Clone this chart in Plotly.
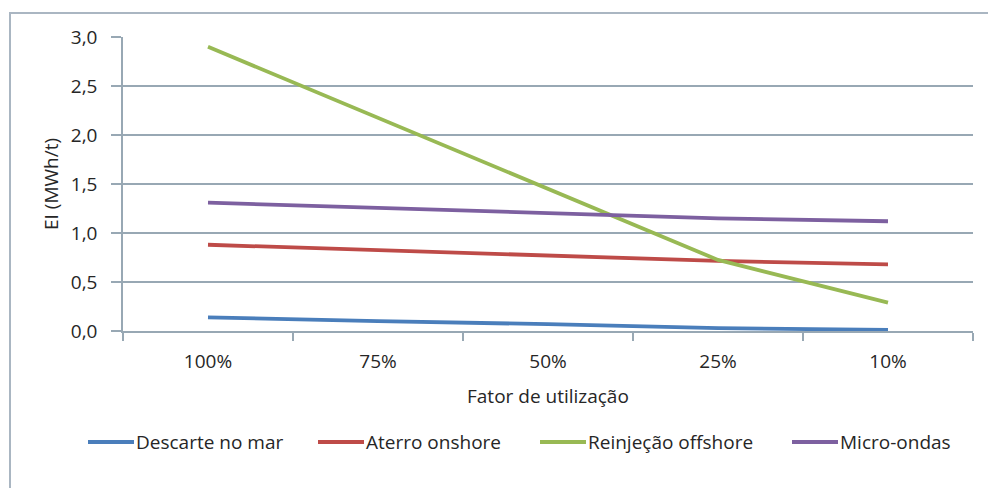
import plotly.graph_objects as go

# Utilisation factor categories
fatores = ["100%", "75%", "50%", "25%", "10%"]

# Energy intensity per destination (MWh/t)
descarte_no_mar = [0.14, 0.10, 0.07, 0.03, 0.01]
aterro_onshore = [0.88, 0.825, 0.77, 0.715, 0.68]
reinjecao_offshore = [2.90, 2.175, 1.45, 0.725, 0.29]
micro_ondas = [1.31, 1.255, 1.205, 1.15, 1.12]

y_ticks = [0.0, 0.5, 1.0, 1.5, 2.0, 2.5, 3.0]

series = [
    ("Descarte no mar", descarte_no_mar, "#4A7EBB"),
    ("Aterro onshore", aterro_onshore, "#BE4B48"),
    ("Reinjeção offshore", reinjecao_offshore, "#98B954"),
    ("Micro-ondas", micro_ondas, "#7D60A0"),
]

FONT = "Open Sans"
TEXT = "#262626"
GRID = "#98a8b4"
FS = 19

# Plot-area geometry in pixels (used to place the legend and frame)
W, H = 988, 488
L, R, T, B = 123, 15, 37, 157
PW, PH = W - L - R, H - T - B


def px_x(x):
    return (x - L) / PW


def px_y(y):
    return (H - B - y) / PH


fig = go.Figure()
for name, vals, color in series:
    fig.add_trace(go.Scatter(
        x=fatores, y=vals, name=name, mode="lines",
        line=dict(color=color, width=3.8), showlegend=False,
    ))

# Legend drawn as line swatches and labels below the axis title
legend_starts = [88, 318, 540, 792]
legend_y = 442
shapes = [
    dict(type="rect", xref="paper", yref="paper",
         x0=px_x(10), y0=-0.7, x1=1.2, y1=px_y(13),
         line=dict(color="#aab6c2", width=2), layer="below"),
]
annotations = [
    dict(text="Fator de utilização", xref="paper", yref="paper",
         x=0.5, y=px_y(396), xanchor="center", yanchor="middle",
         showarrow=False, font=dict(family=FONT, size=FS, color=TEXT)),
    dict(text="EI (MWh/t)", xref="paper", yref="paper",
         x=px_x(51), y=0.5, xanchor="center", yanchor="middle",
         textangle=-90, showarrow=False,
         font=dict(family=FONT, size=FS, color=TEXT)),
]
for (name, _, color), x0 in zip(series, legend_starts):
    shapes.append(dict(type="line", xref="paper", yref="paper",
                       x0=px_x(x0), x1=px_x(x0 + 46),
                       y0=px_y(legend_y), y1=px_y(legend_y),
                       line=dict(color=color, width=3.8)))
    annotations.append(dict(text=name, xref="paper", yref="paper",
                            x=px_x(x0 + 46), y=px_y(legend_y),
                            xanchor="left", yanchor="middle", showarrow=False,
                            font=dict(family=FONT, size=FS, color=TEXT)))

fig.update_layout(
    width=W, height=H,
    margin=dict(l=L, r=R, t=T, b=B),
    paper_bgcolor="white", plot_bgcolor="white",
    separators=", ",
    font=dict(family=FONT, size=FS, color=TEXT),
    xaxis=dict(
        type="category", range=[-0.5, 4.5],
        showgrid=False, showline=True, linecolor=GRID, linewidth=1.5,
        ticks="outside", tickson="boundaries", ticklen=8, tickcolor=GRID,
        tickwidth=1.5, ticklabelstandoff=12,
        tickfont=dict(family=FONT, size=FS, color=TEXT),
    ),
    yaxis=dict(
        range=[0, 3], tickvals=y_ticks, tickformat=".1f",
        showgrid=True, gridcolor=GRID, gridwidth=1.5,
        showline=True, linecolor=GRID, linewidth=1.5,
        ticks="outside", ticklen=10, tickcolor=GRID, tickwidth=1.5,
        ticklabelstandoff=10, zeroline=False,
        tickfont=dict(family=FONT, size=FS, color=TEXT),
    ),
    annotations=annotations,
    shapes=shapes,
)

fig.write_html("out.html")
